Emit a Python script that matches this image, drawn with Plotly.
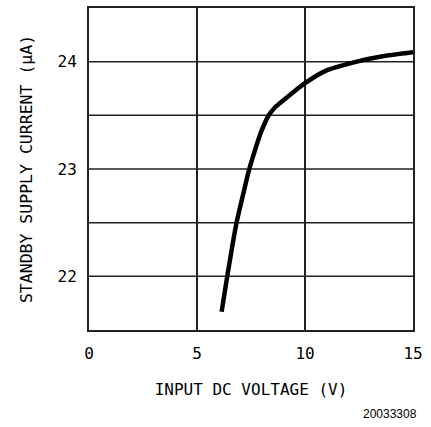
import plotly.graph_objects as go

voltage = [6.14, 6.40, 6.83, 7.12, 7.42, 7.66, 7.94, 8.10, 8.32, 8.62, 9.00, 9.54, 10.0, 10.9, 12.4, 13.6, 15.0]
current = [21.67, 22.0, 22.5, 22.75, 23.0, 23.16, 23.33, 23.41, 23.5, 23.575, 23.64, 23.73, 23.80, 23.91, 24.0, 24.05, 24.087]

x_ticks = [0, 5, 10, 15]
y_ticks = [22, 23, 24]
y_grid = [22, 22.5, 23, 23.5, 24]

font_family = "DejaVu Sans Mono"

fig = go.Figure()
fig.add_trace(go.Scatter(x=voltage, y=current, mode="lines",
                         line=dict(color="black", width=4.5, shape="spline", smoothing=0.7),
                         hoverinfo="skip", showlegend=False))

for yv in y_grid:
    fig.add_shape(type="line", xref="paper", yref="y", x0=0, x1=1, y0=yv, y1=yv,
                  line=dict(color="#222", width=1.5), layer="below")

fig.update_layout(
    width=431, height=427,
    margin=dict(l=89, r=18, t=6, b=97),
    paper_bgcolor="white", plot_bgcolor="white",
    font=dict(family=font_family, color="black"),
    xaxis=dict(range=[0, 15], tickvals=x_ticks, ticks="", showgrid=True,
               gridcolor="#222", gridwidth=1.5, zeroline=False,
               showline=True, linecolor="#222", linewidth=2, mirror=True,
               tickfont=dict(size=16), ticklabelstandoff=8,
               title=dict(text="INPUT DC VOLTAGE (V)", font=dict(size=16), standoff=22)),
    yaxis=dict(range=[21.5, 24.5], tickvals=y_ticks, ticks="", showgrid=False,
               zeroline=False, showline=True, linecolor="#222", linewidth=2, mirror=True,
               tickfont=dict(size=16), ticklabelstandoff=7,
               title=dict(text="STANDBY SUPPLY CURRENT (μA)", font=dict(size=16.5), standoff=21)),
    annotations=[dict(text="20033308", xref="paper", yref="paper", x=1.0185, y=-0.262,
                      xanchor="right", yanchor="middle", showarrow=False,
                      font=dict(family="Liberation Sans", size=12, color="black"))],
)

fig.write_html("out.html", post_script="document.body.style.margin='0';",
               config={"displayModeBar": False})
